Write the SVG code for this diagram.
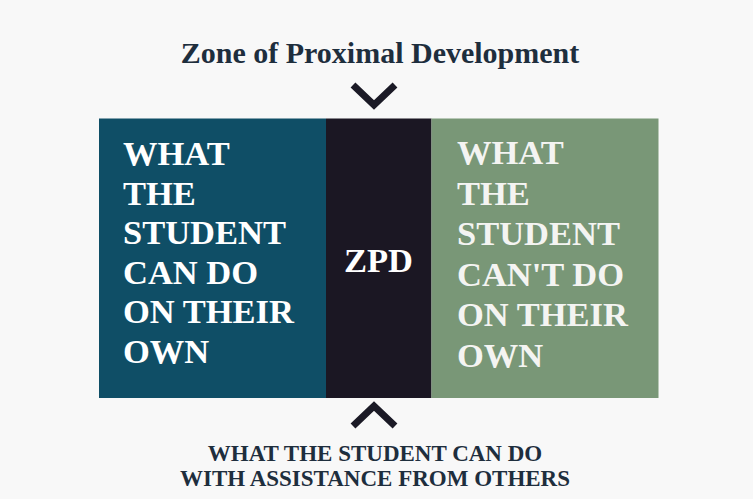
<svg xmlns="http://www.w3.org/2000/svg" width="753" height="499" viewBox="0 0 753 499">
<style>
.t{font-family:"Liberation Serif","Times New Roman",serif;font-weight:bold}
.big{font-size:34.5px;fill:#ffffff}
.dark{fill:#1e2e3d}
.chev{fill:none;stroke:#1b1a26;stroke-width:7;stroke-linejoin:miter;stroke-linecap:butt}
</style>
<rect width="753" height="499" fill="#f8f8f8"/>
<g id="title"><text class="t dark" x="380" y="63" font-size="30" text-anchor="middle">Zone of Proximal Development</text></g>
<g id="connectors">
<polyline class="chev" points="353,85 374,105 395,85"/>
<polyline class="chev" points="353,426 374,406 395,426"/>
</g>
<g id="left">
<rect x="99" y="118.5" width="227" height="279.5" fill="#0f4e66"/>
<text class="t big" x="123"><tspan x="123" y="165">WHAT</tspan><tspan x="123" y="204.5">THE</tspan><tspan x="123" y="244">STUDENT</tspan><tspan x="123" y="283.5">CAN DO</tspan><tspan x="123" y="323">ON THEIR</tspan><tspan x="123" y="362.5">OWN</tspan></text>
</g>
<g id="zpd">
<rect x="326" y="118.5" width="105.5" height="279.5" fill="#1b1723"/>
<text class="t big" x="378.5" y="272" text-anchor="middle">ZPD</text>
</g>
<g id="right">
<rect x="431.5" y="118.5" width="227" height="279.5" fill="#799777"/>
<text class="t big" style="fill:#f4f4f2"><tspan x="457" y="163.5">WHAT</tspan><tspan x="457" y="204.5">THE</tspan><tspan x="457" y="245">STUDENT</tspan><tspan x="457" y="286">CAN'T DO</tspan><tspan x="457" y="326">ON THEIR</tspan><tspan x="457" y="366.5">OWN</tspan></text>
</g>
<g id="bottom">
<text class="t dark" font-size="23" text-anchor="middle"><tspan x="375" y="461">WHAT THE STUDENT CAN DO</tspan><tspan x="375" y="486">WITH ASSISTANCE FROM OTHERS</tspan></text>
</g>
</svg>
